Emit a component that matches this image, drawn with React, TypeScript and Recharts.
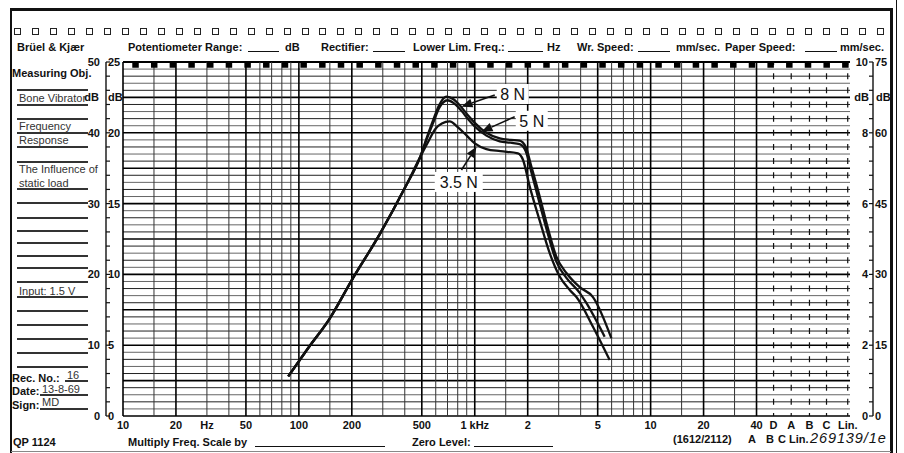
import { LineChart, Line, XAxis, YAxis, ReferenceLine, ReferenceDot } from "recharts";

const FONT = '"Liberation Sans", Arial, Helvetica, sans-serif';

// frequency axis (Hz) as printed on the paper
const freqTicks = [10, 20, 30, 50, 100, 200, 500, 1000, 2000, 5000, 10000, 20000, 40000];
const freqTickLabels = ["10", "20", "Hz", "50", "100", "200", "500", "1 kHz", "2", "5", "10", "20", "40"];
// weighting filter columns at the right end of the paper
const weightFreqs = [50000, 63000, 80000, 100000, 132000];
const weightLabels = ["D", "A", "B", "C", "Lin."];
const FREQ_MIN = 10;
const FREQ_MAX = 136000;

// level scales
const innerTicks = [0, 5, 10, 15, 20, 22.5, 25]; // 25 dB range, 22.5 carries "dB"
const rightTicks = [0, 2, 4, 6, 8, 9, 10]; // 10 dB range, 9 carries "dB"

// measured curves (dB on the 25 dB scale), common rise below ~500 Hz
const riseFreq = [87, 113, 150, 200, 290, 400, 490];
const riseLevel = [2.8, 4.8, 6.9, 9.6, 12.9, 16.1, 18.3];

const freq8N = [535, 580, 630, 690, 760, 840, 920, 1000, 1165, 1387, 1600, 1800, 1950, 2100, 2340, 2600, 2911, 3320, 3950, 4700, 5980];
const level8N = [19.7, 20.9, 22.0, 22.55, 22.35, 21.8, 21.2, 20.7, 20.0, 19.6, 19.5, 19.45, 19.0, 17.6, 15.5, 13.3, 11.25, 10.1, 9.1, 8.4, 5.5];

const freq5N = [535, 580, 630, 700, 760, 840, 920, 1000, 1165, 1387, 1600, 1800, 1950, 2100, 2340, 2600, 2911, 3320, 3950, 4300, 5477];
const level5N = [19.6, 20.7, 21.8, 22.3, 22.1, 21.55, 20.95, 20.45, 19.8, 19.4, 19.3, 19.2, 18.7, 17.2, 15.0, 12.9, 10.9, 9.75, 8.7, 8.0, 5.6];

const freq35N = [540, 600, 650, 720, 800, 900, 1000, 1165, 1400, 1760, 1880, 2054, 2340, 2668, 3040, 3467, 3785, 4700, 5848];
const level35N = [19.3, 20.3, 20.65, 20.8, 20.4, 19.8, 19.25, 18.85, 18.7, 18.55, 18.1, 16.2, 13.8, 11.5, 9.85, 8.9, 8.4, 6.3, 3.95];

// hand-written annotations
const noteText = ["8 N", "5 N", "3.5 N"];
const noteFreq = [1644, 2109, 811];
const noteLevel = [22.74, 20.85, 16.53];
const arrowFromFreq = [1299, 1687, 840];
const arrowFromLevel = [22.67, 21.14, 17.37];
const arrowToFreq = [840, 1092, 1023];
const arrowToLevel = [21.84, 20.08, 19.02];

const toPoints = (f: number[], l: number[]) => [
  ...riseFreq.map((x, i) => ({ f: x, db: riseLevel[i] })),
  ...f.map((x, i) => ({ f: x, db: l[i] })),
];

// grid of the recording paper
const hGrid = Array.from({ length: 51 }, (_, i) => i / 2);
const vGrid: number[] = [];
[10, 100, 1000].forEach((d) => [1, 1.5, 2, 3, 4, 5, 6, 7, 8, 9].forEach((m) => vGrid.push(d * m)));
vGrid.push(10000, 15000, 20000, 30000, 40000);
const outerTicks = Array.from({ length: 26 }, (_, i) => i * 2);
const farRightTicks = Array.from({ length: 26 }, (_, i) => i * 3);

const tickFont = { fontFamily: FONT, fontSize: 11, fontWeight: 700, fill: "#111" };

function InnerTick({ x, y, payload }: any) {
  const v = payload.value;
  if (v === 22.5) {
    return (
      <g>
        <text x={x - 15} y={y} dy="0.36em" textAnchor="start" {...tickFont}>dB</text>
        <text x={x - 24} y={y} dy="0.36em" textAnchor="end" {...tickFont}>dB</text>
      </g>
    );
  }
  return <text x={x - 15} y={y} dy="0.36em" textAnchor="start" {...tickFont}>{v}</text>;
}

function OuterTick({ x, y, payload }: any) {
  const v = payload.value;
  if (v % 10 !== 0) return <g />;
  return <text x={x} y={y} dy="0.36em" textAnchor="end" {...tickFont}>{v}</text>;
}

function RightTick({ x, y, payload }: any) {
  const v = payload.value;
  if (v === 9) {
    return (
      <g>
        <text x={x + 19} y={y} dy="0.36em" textAnchor="end" {...tickFont}>dB</text>
        <text x={x + 26} y={y} dy="0.36em" textAnchor="start" {...tickFont}>dB</text>
      </g>
    );
  }
  return <text x={x + 18} y={y} dy="0.36em" textAnchor="end" {...tickFont}>{v}</text>;
}

function FarRightTick({ x, y, payload }: any) {
  const v = payload.value;
  if (v % 15 !== 0) return <g />;
  return <text x={x} y={y} dy="0.36em" textAnchor="start" {...tickFont}>{v}</text>;
}

function FreqTick({ x, y, payload }: any) {
  const v = payload.value;
  let label = "";
  const i = freqTicks.indexOf(v);
  if (i >= 0) label = freqTickLabels[i];
  const j = weightFreqs.indexOf(v);
  if (j >= 0) label = weightLabels[j];
  return <text x={x} y={y + 9} dy="0.36em" textAnchor="middle" {...tickFont}>{label}</text>;
}

function Arrow({ x1, y1, x2, y2 }: any) {
  const a = Math.atan2(y2 - y1, x2 - x1);
  const L = 11;
  const W = 4.5;
  const bx = x2 - L * Math.cos(a);
  const by = y2 - L * Math.sin(a);
  const px = -Math.sin(a) * W;
  const py = Math.cos(a) * W;
  return (
    <g>
      <line x1={x1} y1={y1} x2={bx} y2={by} stroke="#111" strokeWidth={1.6} />
      <polygon points={`${x2},${y2} ${bx + px},${by + py} ${bx - px},${by - py}`} fill="#111" />
    </g>
  );
}

const noteShape = (text: string) => (props: any) => {
  const { cx, cy } = props;
  const w = text.length * 8 + 8;
  return (
    <g>
      <rect x={cx - w / 2} y={cy - 10} width={w} height={20} fill="#fff" />
      <text x={cx} y={cy} dy="0.36em" textAnchor="middle" fontFamily={FONT} fontSize={16} fill="#111">{text}</text>
    </g>
  );
};

function T({ x, y, s = 11, b = true, c = "#111", i = false, ls = 0, children }: any) {
  return (
    <span
      style={{
        position: "absolute",
        left: x,
        top: y - s * 0.5,
        fontSize: s,
        lineHeight: `${s}px`,
        fontWeight: b ? 700 : 400,
        fontStyle: i ? "italic" : "normal",
        letterSpacing: ls,
        color: c,
        whiteSpace: "nowrap",
      }}
    >
      {children}
    </span>
  );
}

function HL({ x1, x2, y, w = 1, c = "#111" }: any) {
  return <div style={{ position: "absolute", left: x1, top: y - w / 2, width: x2 - x1, height: w, background: c }} />;
}

function VL({ x, y1, y2, w = 1, c = "#111" }: any) {
  return <div style={{ position: "absolute", left: x - w / 2, top: y1, width: w, height: y2 - y1, background: c }} />;
}

const leftRules = [90, 105, 119, 133, 147, 162, 189, 203, 218, 231, 243, 256, 268, 282, 297, 311, 325, 339, 353, 367];
const holes = Array.from({ length: 49 }, (_, i) => i);

export default function App() {
  const series = [
    { key: "8N", data: toPoints(freq8N, level8N) },
    { key: "5N", data: toPoints(freq5N, level5N) },
    { key: "35N", data: toPoints(freq35N, level35N) },
  ];

  return (
    <div style={{ position: "absolute", left: 0, top: 0, width: 904, height: 453, background: "#fff", fontFamily: FONT, color: "#111", overflow: "hidden" }}>
      <div style={{ position: "absolute", left: 0, top: 0 }}>
        <LineChart width={904} height={453} margin={{ top: 62, right: 8, bottom: 17, left: 76 }}>
          <XAxis
            dataKey="f"
            type="number"
            scale="log"
            domain={[FREQ_MIN, FREQ_MAX]}
            allowDataOverflow
            ticks={[...freqTicks, ...weightFreqs]}
            interval={0}
            tick={<FreqTick />}
            tickLine={false}
            axisLine={false}
            tickSize={0}
            tickMargin={0}
            height={20}
          />
          <YAxis yAxisId="L1" orientation="left" width={17} domain={[0, 25]} type="number" allowDataOverflow ticks={innerTicks} interval={0}
            tick={<InnerTick />} tickLine={false} axisLine={false} tickSize={0} tickMargin={0} />
          <YAxis yAxisId="L2" orientation="left" width={30} domain={[0, 50]} type="number" allowDataOverflow ticks={outerTicks} interval={0}
            tick={<OuterTick />} tickLine={{ stroke: "#111", strokeWidth: 1.2 }} axisLine={{ stroke: "#111", strokeWidth: 1.4 }}
            tickSize={-4} tickMargin={10} />
          <YAxis yAxisId="R1" orientation="right" width={23} domain={[0, 10]} type="number" allowDataOverflow ticks={rightTicks} interval={0}
            tick={<RightTick />} tickLine={false} axisLine={false} tickSize={0} tickMargin={0} />
          <YAxis yAxisId="R2" orientation="right" width={23} domain={[0, 75]} type="number" allowDataOverflow ticks={farRightTicks} interval={0}
            tick={<FarRightTick />} tickLine={{ stroke: "#111", strokeWidth: 1.2 }} axisLine={{ stroke: "#111", strokeWidth: 1.4 }}
            tickSize={-4} tickMargin={6} />

          {hGrid.map((v) => (
            <ReferenceLine
              key={`h${v}`}
              yAxisId="L1"
              y={v}
              stroke={v % 2.5 === 0 ? "#000" : v % 1 === 0 ? "#222" : "#666"}
              strokeWidth={v === 25 ? 2.2 : v % 2.5 === 0 ? 1.6 : 1}
            />
          ))}
          {vGrid.map((v) => {
            const m = v / Math.pow(10, Math.floor(Math.log10(v) + 1e-9));
            const major = Math.abs(m - 1) < 1e-6 || Math.abs(m - 2) < 1e-6 || Math.abs(m - 5) < 1e-6 || v === 40000;
            return <ReferenceLine key={`v${v}`} yAxisId="L1" x={v} stroke={major ? "#000" : "#333"} strokeWidth={major ? 1.6 : 1} />;
          })}
          {weightFreqs.map((v) => (
            <ReferenceLine key={`w${v}`} yAxisId="L1" x={v} stroke="#111" strokeWidth={1.2} strokeDasharray="6 8.16" strokeDashoffset={3} />
          ))}
          <ReferenceLine yAxisId="L1" y={24.79} stroke="#000" strokeWidth={5.5} strokeDasharray="6.5 12.18" strokeDashoffset={9.4} />

          {series.map((s) => (
            <Line
              key={s.key}
              yAxisId="L1"
              data={s.data}
              dataKey="db"
              type="monotone"
              stroke="#111"
              strokeWidth={2.3}
              dot={false}
              activeDot={false}
              isAnimationActive={false}
            />
          ))}

          {noteText.map((t, i) => (
            <ReferenceLine
              key={`a${i}`}
              yAxisId="L1"
              segment={[
                { x: arrowFromFreq[i], y: arrowFromLevel[i] },
                { x: arrowToFreq[i], y: arrowToLevel[i] },
              ]}
              shape={<Arrow />}
            />
          ))}
          {noteText.map((t, i) => (
            <ReferenceDot key={`n${i}`} yAxisId="L1" x={noteFreq[i]} y={noteLevel[i]} r={0} shape={noteShape(t)} />
          ))}
        </LineChart>
      </div>

      {/* frame of the recording sheet */}
      <HL x1={10} x2={893} y={9.5} w={2.5} />
      <VL x={11} y1={8} y2={453} w={2.5} />
      <VL x={891.5} y1={8} y2={453} w={3} />
      <VL x={896} y1={0} y2={453} w={1} />
      <HL x1={11} x2={891} y={451.5} w={1.5} c="#888" />

      {/* sprocket holes */}
      {holes.map((i) => (
        <div key={i} style={{ position: "absolute", left: 14 + i * 17.97, top: 28, width: 7, height: 7, boxSizing: "border-box", border: "1.3px solid #222" }} />
      ))}

      {/* header */}
      <T x={17} y={47}>Brüel &amp; Kjær</T>
      <T x={128} y={47}>Potentiometer Range:</T>
      <HL x1={248} x2={279} y={51} />
      <T x={285} y={47}>dB</T>
      <T x={321} y={47}>Rectifier:</T>
      <HL x1={373} x2={405} y={51} />
      <T x={413} y={47}>Lower Lim. Freq.:</T>
      <HL x1={508} x2={543} y={51} />
      <T x={547} y={47}>Hz</T>
      <T x={577} y={47}>Wr. Speed:</T>
      <HL x1={638} x2={670} y={51} />
      <T x={676} y={47}>mm/sec.</T>
      <T x={725} y={47}>Paper Speed:</T>
      <HL x1={805} x2={837} y={51} />
      <T x={840} y={47}>mm/sec.</T>

      {/* left form column */}
      <T x={12} y={73}>Measuring Obj.</T>
      {leftRules.map((y) => (
        <HL key={y} x1={17} x2={88} y={y} w={1.3} c="#333" />
      ))}
      <T x={19} y={98} b={false} c="#333">Bone Vibrator</T>
      <T x={19} y={126.5} b={false} c="#333">Frequency</T>
      <T x={19} y={140} b={false} c="#333">Response</T>
      <T x={19} y={169} b={false} c="#333">The Influence of</T>
      <T x={19} y={183} b={false} c="#333">static load</T>
      <T x={19} y={291.5} b={false} c="#333">Input: 1.5 V</T>
      <T x={12} y={378}>Rec. No.:</T>
      <T x={67} y={375.5} b={false} c="#333">16</T>
      <HL x1={65} x2={88} y={381} w={1.3} c="#333" />
      <T x={12} y={391}>Date:</T>
      <T x={42} y={389} b={false} c="#333">13-8-69</T>
      <HL x1={40} x2={88} y={395} w={1.3} c="#333" />
      <T x={12} y={405}>Sign:</T>
      <T x={42} y={402.5} b={false} c="#333">MD</T>
      <HL x1={40} x2={88} y={409} w={1.3} c="#333" />

      {/* footer */}
      <T x={13} y={442}>QP 1124</T>
      <T x={128} y={442}>Multiply Freq. Scale by</T>
      <HL x1={255} x2={385} y={446} />
      <T x={412} y={442}>Zero Level:</T>
      <HL x1={474} x2={553} y={446} />
      <T x={673} y={439}>(1612/2112)</T>
      <T x={748} y={439}>A</T>
      <T x={766} y={439}>B</T>
      <T x={778} y={439}>C Lin.</T>
      <T x={810} y={438.5} s={14.5} b={false} i ls={0.9}>269139/1e</T>
    </div>
  );
}
